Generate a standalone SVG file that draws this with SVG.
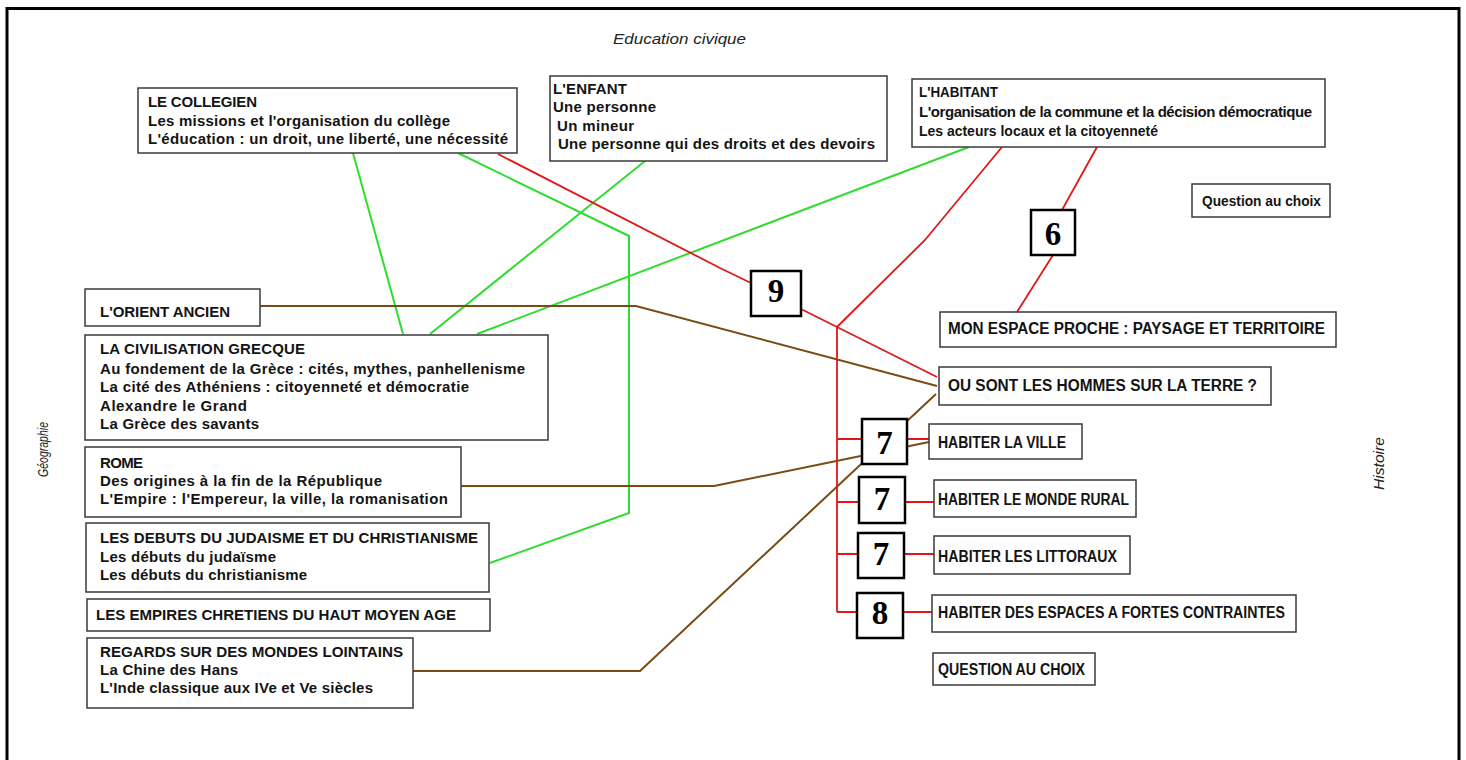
<svg xmlns="http://www.w3.org/2000/svg" width="1466" height="760" viewBox="0 0 1466 760">
<style>
.box{fill:#fff;stroke:#3a3a3a;stroke-width:1.5}
.num{fill:#fff;stroke:#000;stroke-width:2.5}
.t{font-family:"Liberation Sans",Arial,sans-serif;font-weight:bold;font-size:15px;fill:#141414}
.u{font-size:16px}
.n{font-family:"Liberation Serif","Times New Roman",serif;font-weight:bold;font-size:33px;text-anchor:middle;fill:#000}
.lab{font-family:"Liberation Sans",Arial,sans-serif;font-style:italic;fill:#222}
.g{stroke:#30dc30;stroke-width:2;fill:none}
.r{stroke:#e01818;stroke-width:1.8;fill:none}
.b{stroke:#7a4b14;stroke-width:2;fill:none}
</style>
<rect width="1466" height="760" fill="#fff"/>
<path d="M7,760 V8.5 H1459 V760" fill="none" stroke="#000" stroke-width="3"/>
<text class="lab" x="613" y="44" font-size="15" textLength="133" lengthAdjust="spacingAndGlyphs">Education civique</text>
<text class="lab" font-size="14" transform="translate(48,477) rotate(-90)" textLength="55" lengthAdjust="spacingAndGlyphs">Géographie</text>
<text class="lab" font-size="14" transform="translate(1384,490) rotate(-90)" textLength="53" lengthAdjust="spacingAndGlyphs">Histoire</text>

<g id="connectors">
<path class="g" d="M353,153 L403,334"/>
<path class="g" d="M458,153 L629,236 L629,513 L490,563"/>
<path class="g" d="M645,161 L430,334"/>
<path class="g" d="M969,147 L477,334"/>
<path class="b" d="M260,306 H636 L937,386"/>
<path class="b" d="M461,486 H714 L929,442"/>
<path class="b" d="M413,671 H640 L936,394"/>
<path class="r" d="M498,154 L720,268 L751,283"/>
<path class="r" d="M801,309 L937,377"/>
<path class="r" d="M1002,147 L925,240 L837,327 L837,612"/>
<path class="r" d="M837,439 H862 M837,502 H859 M837,554 H858 M837,612 H857"/>
<path class="r" d="M907,439 H929 M905,502 H934 M904,554 H934 M903,612 H932"/>
<path class="r" d="M1097,147 L1062,210 M1053,255 L1017,312"/>
</g>

<g id="collegien">
<rect class="box" x="138" y="88" width="379" height="65"/>
<text class="t" x="148" y="107" textLength="109">LE COLLEGIEN</text>
<text class="t" x="148" y="126" textLength="302">Les missions et l'organisation du collège</text>
<text class="t" x="148" y="144" textLength="360">L'éducation : un droit, une liberté, une nécessité</text>
</g>
<g id="enfant">
<rect class="box" x="550" y="76" width="337" height="85"/>
<text class="t" x="553" y="94" textLength="74">L'ENFANT</text>
<text class="t" x="553" y="112" textLength="103">Une personne</text>
<text class="t" x="557" y="131" textLength="77">Un mineur</text>
<text class="t" x="558" y="149" textLength="317">Une personne qui des droits et des devoirs</text>
</g>
<g id="habitant">
<rect class="box" x="912" y="79" width="413" height="68"/>
<text class="t" x="919" y="97" textLength="79" lengthAdjust="spacingAndGlyphs">L'HABITANT</text>
<text class="t" x="919" y="117" textLength="393">L'organisation de la commune et la décision démocratique</text>
<text class="t" x="919" y="136" textLength="239" lengthAdjust="spacingAndGlyphs">Les acteurs locaux et la citoyenneté</text>
</g>
<g id="question-choix-haut">
<rect class="box" x="1192" y="184" width="138" height="33"/>
<text class="t" x="1202" y="206" textLength="119" lengthAdjust="spacingAndGlyphs">Question au choix</text>
</g>
<g id="n6">
<rect class="num" x="1031" y="210" width="44" height="45"/>
<text class="n" x="1053" y="245">6</text>
</g>
<g id="n9">
<rect class="num" x="751" y="271" width="50" height="45"/>
<text class="n" x="776" y="302">9</text>
</g>
<g id="orient">
<rect class="box" x="85" y="289" width="175" height="37"/>
<text class="t" x="100" y="317" textLength="130">L'ORIENT ANCIEN</text>
</g>
<g id="grece">
<rect class="box" x="85" y="335" width="463" height="105"/>
<text class="t" x="100" y="354" textLength="205">LA CIVILISATION GRECQUE</text>
<text class="t" x="100" y="374" textLength="425">Au fondement de la Grèce : cités, mythes, panhellenisme</text>
<text class="t" x="100" y="392" textLength="369">La cité des Athéniens : citoyenneté et démocratie</text>
<text class="t" x="100" y="411" textLength="147">Alexandre le Grand</text>
<text class="t" x="100" y="429" textLength="159">La Grèce des savants</text>
</g>
<g id="rome">
<rect class="box" x="85" y="447" width="376" height="70"/>
<text class="t" x="100" y="468" textLength="43">ROME</text>
<text class="t" x="100" y="486" textLength="282">Des origines à la fin de la République</text>
<text class="t" x="100" y="504" textLength="348">L'Empire : l'Empereur, la ville, la romanisation</text>
</g>
<g id="judaisme">
<rect class="box" x="86" y="523" width="403" height="69"/>
<text class="t" x="100" y="543" textLength="378">LES DEBUTS DU JUDAISME ET DU CHRISTIANISME</text>
<text class="t" x="100" y="562" textLength="176">Les débuts du judaïsme</text>
<text class="t" x="100" y="580" textLength="207">Les débuts du christianisme</text>
</g>
<g id="empires">
<rect class="box" x="87" y="599" width="403" height="32"/>
<text class="t" x="96" y="620" textLength="360" lengthAdjust="spacingAndGlyphs">LES EMPIRES CHRETIENS DU HAUT MOYEN AGE</text>
</g>
<g id="regards">
<rect class="box" x="87" y="638" width="326" height="70"/>
<text class="t" x="100" y="657" textLength="303" lengthAdjust="spacingAndGlyphs">REGARDS SUR DES MONDES LOINTAINS</text>
<text class="t" x="100" y="675" textLength="138">La Chine des Hans</text>
<text class="t" x="100" y="693" textLength="273">L'Inde classique aux IVe et Ve siècles</text>
</g>
<g id="espace-proche">
<rect class="box" x="940" y="312" width="396" height="35"/>
<text class="t u" x="948" y="334" textLength="377" lengthAdjust="spacingAndGlyphs">MON ESPACE PROCHE : PAYSAGE ET TERRITOIRE</text>
</g>
<g id="ou-sont">
<rect class="box" x="939" y="367" width="332" height="38"/>
<text class="t u" x="948" y="391" textLength="309" lengthAdjust="spacingAndGlyphs">OU SONT LES HOMMES SUR LA TERRE  ?</text>
</g>
<g id="n7a">
<rect class="num" x="862" y="419" width="45" height="45"/>
<text class="n" x="884.5" y="454">7</text>
</g>
<g id="n7b">
<rect class="num" x="859" y="477" width="46" height="46"/>
<text class="n" x="882" y="510">7</text>
</g>
<g id="n7c">
<rect class="num" x="858" y="533" width="46" height="45"/>
<text class="n" x="881" y="565">7</text>
</g>
<g id="n8">
<rect class="num" x="857" y="593" width="46" height="45"/>
<text class="n" x="880" y="624">8</text>
</g>
<g id="ville">
<rect class="box" x="929" y="424" width="153" height="35"/>
<text class="t u" x="938" y="448" textLength="128" lengthAdjust="spacingAndGlyphs">HABITER LA VILLE</text>
</g>
<g id="rural">
<rect class="box" x="934" y="480" width="202" height="37"/>
<text class="t u" x="938" y="505" textLength="191" lengthAdjust="spacingAndGlyphs">HABITER LE MONDE RURAL</text>
</g>
<g id="littoraux">
<rect class="box" x="934" y="536" width="196" height="38"/>
<text class="t u" x="938" y="562" textLength="179" lengthAdjust="spacingAndGlyphs">HABITER LES LITTORAUX</text>
</g>
<g id="contraintes">
<rect class="box" x="932" y="595" width="364" height="37"/>
<text class="t u" x="938" y="618" textLength="347" lengthAdjust="spacingAndGlyphs">HABITER DES ESPACES A FORTES CONTRAINTES</text>
</g>
<g id="question-choix-bas">
<rect class="box" x="933" y="653" width="162" height="32"/>
<text class="t u" x="938" y="675" textLength="147" lengthAdjust="spacingAndGlyphs">QUESTION AU CHOIX</text>
</g>
</svg>
